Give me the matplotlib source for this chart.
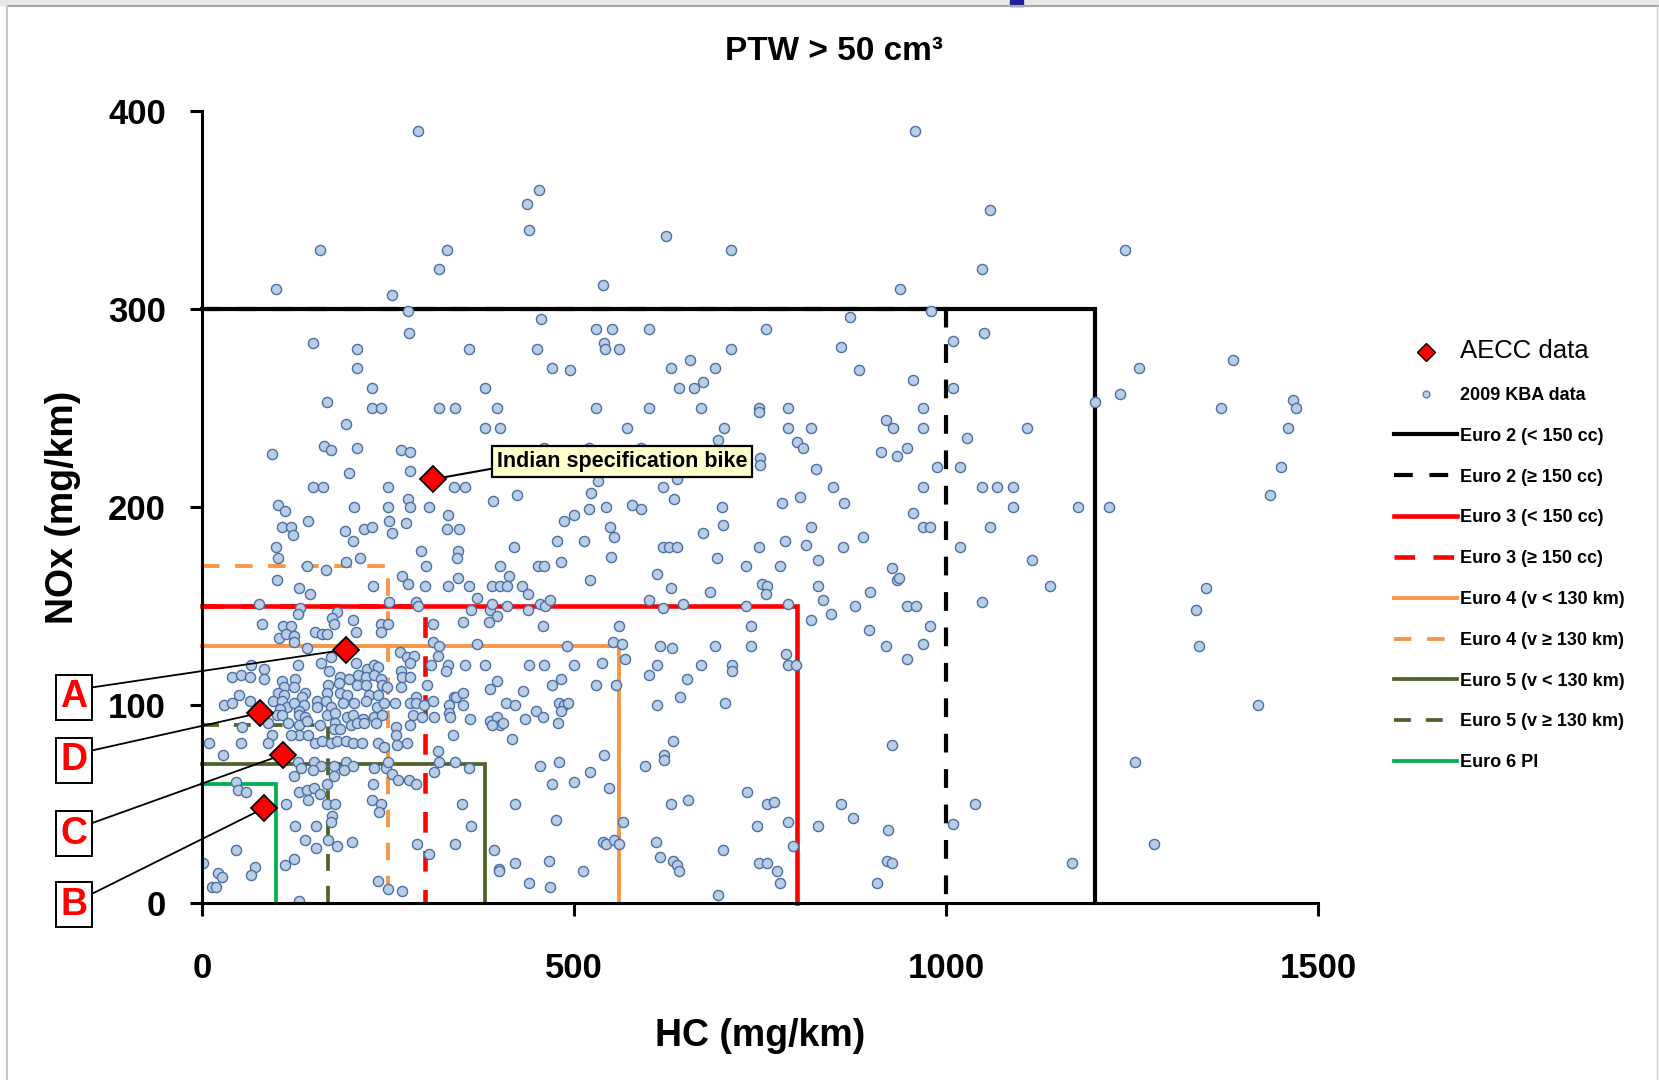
import matplotlib
matplotlib.use("Agg")
import matplotlib.pyplot as plt
import numpy as np
from matplotlib.lines import Line2D
from matplotlib.patches import Rectangle

plt.rcParams['font.family'] = ['Liberation Sans', 'DejaVu Sans']

# 2009 KBA data: (HC mg/km, NOx mg/km)
kba_upper = [
    (290, 390), (453, 360), (437, 353), (440, 340), (624, 337), (711, 330), (159, 330), (329, 330),
    (319, 320), (99, 310), (256, 307), (539, 312), (277, 299), (455, 295), (278, 288), (530, 290),
    (551, 290), (601, 290), (149, 283), (209, 280), (359, 280), (450, 280), (540, 283), (541, 280),
    (560, 280), (711, 280), (209, 270), (471, 270), (494, 269), (630, 270), (656, 274), (690, 270),
    (229, 260), (380, 260), (641, 260), (661, 260), (673, 263), (168, 253), (229, 250), (240, 250),
    (319, 250), (340, 250), (396, 250), (530, 250), (601, 250), (671, 250), (193, 242), (380, 240),
    (400, 240), (571, 240), (701, 240), (94, 227), (164, 231), (174, 229), (209, 230), (268, 229),
    (280, 228), (694, 234), (197, 217), (279, 218), (532, 213), (638, 214), (460, 230), (520, 230),
    (590, 230), (484, 218), (586, 219), (660, 219), (715, 219),
    (959, 390), (1059, 350), (1240, 330), (1049, 320), (938, 310), (980, 299), (871, 296), (758, 290),
    (1051, 288), (1009, 284), (859, 281), (1386, 274), (883, 269), (1260, 270), (956, 264), (1009, 260),
    (1234, 257), (1200, 253), (1466, 254), (1470, 250), (1370, 250), (748, 250), (748, 248), (788, 250),
    (969, 250), (919, 244), (929, 240), (788, 240), (818, 240), (969, 240), (1109, 240), (1460, 240),
    (1028, 235), (800, 233), (808, 230), (912, 228), (934, 226), (948, 230), (750, 225), (750, 221),
    (825, 219), (988, 220), (1019, 220), (1450, 220), (848, 210), (969, 210), (1049, 210), (1069, 210),
    (1090, 210), (1435, 206),
]

kba_right = [
    (779, 202), (804, 205), (863, 202), (956, 197), (1090, 200), (1178, 200), (1219, 200), (818, 190),
    (969, 190), (978, 190), (1059, 190), (889, 185), (748, 180), (784, 183), (812, 181), (862, 180),
    (1019, 180), (828, 173), (1115, 173), (777, 170), (928, 169), (934, 163), (937, 164), (753, 161),
    (759, 160), (758, 156), (828, 160), (898, 157), (1140, 160), (1350, 159), (835, 153), (1049, 152),
    (787, 151), (878, 150), (948, 150), (960, 150), (1336, 148), (846, 146), (818, 143), (738, 140),
    (896, 138), (978, 140), (738, 130), (919, 130), (969, 131), (1340, 130), (785, 126), (948, 123),
    (787, 120), (798, 120), (1420, 100), (928, 80), (1254, 71), (733, 56), (759, 50), (769, 51),
    (859, 50), (1039, 50), (875, 43), (746, 39), (788, 41), (828, 39), (922, 37), (1009, 40),
    (794, 29), (1280, 30), (748, 20), (759, 20), (773, 16), (921, 21), (928, 20), (1169, 20),
    (777, 10), (907, 10),
]

kba_middle = [
    (149, 210), (162, 210), (250, 210), (339, 210), (353, 210), (423, 206), (391, 203), (523, 207),
    (620, 210), (634, 204), (102, 201), (112, 198), (204, 200), (250, 200), (277, 204), (279, 200),
    (305, 200), (331, 196), (486, 193), (500, 196), (520, 199), (543, 200), (578, 201), (590, 199),
    (699, 200), (700, 191), (108, 190), (119, 190), (122, 186), (143, 193), (192, 188), (218, 189),
    (229, 190), (252, 193), (256, 187), (274, 192), (329, 189), (346, 189), (477, 183), (513, 183),
    (549, 190), (554, 185), (674, 187), (99, 180), (102, 174), (203, 183), (212, 174), (193, 172),
    (294, 178), (344, 178), (343, 174), (419, 180), (550, 175), (620, 180), (628, 180), (639, 180),
    (692, 174),
]

kba_cluster = [
    (141, 170), (166, 168), (101, 163), (130, 159), (145, 156), (230, 160), (269, 165), (277, 161),
    (301, 170), (300, 160), (330, 160), (344, 164), (77, 151), (132, 149), (129, 146), (252, 152),
    (287, 152), (290, 150), (182, 147), (175, 144), (178, 141), (80, 141), (203, 143), (109, 140),
    (119, 140), (103, 134), (113, 136), (124, 135), (124, 132), (152, 137), (161, 136), (168, 136),
    (207, 137), (240, 141), (250, 141), (240, 137), (310, 141), (141, 129), (173, 124), (207, 121),
    (160, 121), (129, 120), (66, 120), (84, 118), (266, 127), (276, 124), (285, 125), (310, 132),
    (319, 130), (317, 125), (308, 120), (330, 120), (279, 121), (222, 118), (231, 120), (237, 119),
    (171, 117), (40, 114), (52, 115), (64, 114), (84, 113), (107, 112), (125, 113), (185, 114),
    (197, 113), (210, 115), (220, 114), (231, 115), (240, 113), (268, 117), (269, 114), (280, 114),
    (328, 117), (169, 110), (184, 111), (209, 110), (220, 110), (242, 110), (110, 109), (123, 109),
    (138, 106), (134, 104), (50, 105), (102, 106), (110, 105), (168, 106), (185, 106), (195, 105),
    (224, 105), (237, 105), (248, 109), (268, 109), (303, 110), (288, 104), (339, 104), (29, 100),
    (40, 101), (65, 102), (96, 102), (107, 102), (114, 99), (105, 98), (124, 101), (137, 100),
    (130, 97), (155, 102), (167, 102), (155, 99), (173, 99), (190, 101), (204, 101), (220, 102),
    (235, 99), (245, 101), (259, 101), (280, 101), (288, 101), (299, 100), (310, 102), (332, 100),
    (341, 104), (101, 95), (107, 95), (131, 95), (138, 94), (168, 95), (179, 96), (195, 94),
    (203, 95), (217, 93), (231, 94), (242, 95), (284, 95), (296, 94), (312, 94), (332, 96),
    (334, 94), (89, 91), (116, 91), (131, 90), (141, 92), (159, 90), (179, 91), (200, 90),
    (208, 91), (218, 91), (234, 91), (261, 89), (279, 90), (54, 89), (177, 88), (186, 88),
    (94, 85), (131, 85), (143, 85), (261, 85), (337, 85), (9, 81), (28, 75), (52, 81),
    (89, 81), (119, 85), (152, 81), (161, 82), (173, 81), (182, 82), (194, 82), (203, 81),
    (215, 81), (236, 81), (244, 79), (262, 80), (276, 81), (317, 77),
]

kba_low = [
    (129, 71), (133, 68), (150, 71), (160, 69), (177, 69), (193, 71), (203, 69), (149, 67),
    (191, 67), (231, 68), (247, 68), (250, 71), (256, 65), (263, 62), (278, 62), (287, 60),
    (312, 66), (319, 71), (340, 71), (124, 64), (177, 64), (46, 61), (48, 57), (59, 56),
    (131, 56), (141, 57), (151, 58), (159, 55), (143, 52), (168, 60), (230, 60), (229, 52),
    (240, 50), (238, 46), (113, 50), (168, 50), (179, 50), (175, 44), (174, 41), (350, 50),
    (125, 39), (153, 39), (138, 32), (153, 28), (169, 32), (182, 29), (202, 31), (46, 27),
    (2, 20), (112, 19), (123, 22), (71, 18), (66, 14), (22, 15), (27, 13), (13, 8),
    (19, 8), (236, 11), (250, 7), (269, 6), (289, 30), (305, 25), (340, 30), (131, 1),
]

kba_mid_low = [
    (400, 170), (451, 170), (460, 170), (482, 172), (731, 170), (412, 165), (359, 160), (390, 160),
    (401, 160), (410, 160), (430, 160), (438, 156), (369, 154), (522, 163), (611, 166), (630, 159),
    (683, 157), (361, 148), (387, 148), (390, 151), (396, 145), (386, 142), (410, 150), (438, 148),
    (454, 151), (461, 150), (468, 153), (459, 140), (601, 153), (619, 149), (646, 151), (731, 150),
    (560, 140), (351, 142), (369, 131), (490, 130), (552, 132), (564, 131), (616, 130), (632, 129),
    (690, 130), (354, 120), (380, 120), (440, 120), (460, 120), (500, 120), (537, 121), (569, 123),
    (611, 120), (601, 115), (671, 120), (712, 120), (712, 117), (397, 112), (387, 108), (482, 113),
    (470, 110), (530, 110), (557, 110), (652, 113), (431, 107), (351, 106), (351, 100), (408, 101),
    (421, 100), (480, 101), (487, 100), (492, 101), (483, 97), (449, 97), (459, 94), (611, 100),
    (643, 104), (703, 101), (360, 93), (387, 92), (397, 94), (401, 90), (405, 91), (390, 90),
    (434, 93), (478, 91), (416, 83), (633, 82), (540, 75), (621, 75), (621, 72), (596, 69),
    (454, 69), (480, 71), (359, 68), (522, 66), (500, 61), (471, 60), (547, 58), (653, 52),
    (630, 50), (421, 50), (476, 42), (362, 39), (566, 41), (539, 31), (543, 30), (554, 32),
    (560, 30), (610, 31), (392, 27), (616, 23), (633, 21), (638, 19), (641, 16), (700, 27),
    (399, 17), (399, 16), (421, 20), (466, 21), (512, 16), (440, 10), (468, 8), (694, 4),
]

# AECC data points
aecc_labels = ['A', 'B', 'C', 'D']
aecc_hc = [194, 84, 109, 78]
aecc_nox = [128, 48, 75, 96]
indian_hc, indian_nox = 310, 214

# emission limit boxes
limit_names = ['Euro 2 (< 150 cc)', 'Euro 2 (≥ 150 cc)', 'Euro 3 (< 150 cc)', 'Euro 3 (≥ 150 cc)',
               'Euro 4 (v < 130 km)', 'Euro 4 (v ≥ 130 km)', 'Euro 5 (v < 130 km)',
               'Euro 5 (v ≥ 130 km)', 'Euro 6 PI']
limit_hc = [1200, 1000, 800, 300, 560, 250, 380, 170, 100]
limit_nox = [300, 300, 150, 150, 130, 170, 70, 90, 60]
limit_colors = ['black', 'black', '#FF0000', '#FF0000', '#F79646', '#F79646',
                '#4F6228', '#4F6228', '#00B050']
limit_widths = [3.0, 3.0, 3.3, 3.3, 2.8, 2.8, 2.7, 2.7, 2.7]
limit_dashed = [False, True, False, True, False, True, False, True, False]

W, H = 1659, 1080
fig = plt.figure(figsize=(W / 100, H / 100), dpi=100)
ax = fig.add_axes([202 / W, 177 / H, 1116 / W, 792 / H])

# page frame
fig.patches.append(Rectangle((0, 1 - 5 / H), 1, 5 / H, transform=fig.transFigure, color='#E8E8E8', zorder=0))
fig.patches.append(Rectangle((1010 / W, 1 - 6 / H), 13 / W, 6 / H, transform=fig.transFigure, color='#1F1F9A', zorder=1))
fig.lines.append(Line2D([7 / W, 1], [1 - 6 / H, 1 - 6 / H], transform=fig.transFigure, color='#A8A8A8', lw=1.5))
fig.lines.append(Line2D([7 / W, 7 / W], [0, 1 - 6 / H], transform=fig.transFigure, color='#C8C8C8', lw=1.5))
fig.lines.append(Line2D([1657 / W, 1657 / W], [0, 1 - 6 / H], transform=fig.transFigure, color='#D0D0D0', lw=1.0))

handles = []
for name, hc, nox, col, lw, dashed in zip(limit_names, limit_hc, limit_nox, limit_colors,
                                            limit_widths, limit_dashed):
    ls = (0, (4.5, 4)) if dashed else '-'
    ln, = ax.plot([0, hc, hc], [nox, nox, 0], color=col, lw=lw, ls=ls, zorder=2,
                  solid_joinstyle='miter', clip_on=False, label=name)
    handles.append(ln)

kba = np.array(kba_upper + kba_right + kba_middle + kba_cluster + kba_low + kba_mid_low)
ax.plot(kba[:, 0], kba[:, 1], 'o', ms=7.3, mfc='#B9CDE5', mec='#4A70A5', mew=1.0, zorder=3)

ax.plot(aecc_hc + [indian_hc], aecc_nox + [indian_nox], 'D', ms=13.5, mfc='#FF0000',
        mec='black', mew=1.3, zorder=6, clip_on=False)

# callouts
ax.annotate('Indian specification bike', xy=(indian_hc, indian_nox), xytext=(565, 223),
            ha='center', va='center', fontsize=15.5, fontweight='bold', zorder=5,
            bbox=dict(boxstyle='square,pad=0.22', fc='#FFFFCC', ec='black', lw=1.6),
            arrowprops=dict(arrowstyle='-', color='black', lw=1.5, shrinkA=0, shrinkB=0,
                            relpos=(0, 0.2)))

label_y = {'A': 104, 'D': 72, 'C': 35, 'B': -1}
for lab, hc, nox in zip(aecc_labels, aecc_hc, aecc_nox):
    ax.annotate(lab, xy=(hc, nox), xytext=(-172, label_y[lab]), ha='center', va='center',
                fontsize=27, fontweight='bold', color='#FF0000', zorder=5, annotation_clip=False,
                bbox=dict(boxstyle='square,pad=0.12', fc='white', ec='black', lw=1.4),
                arrowprops=dict(arrowstyle='-', color='black', lw=1.3, shrinkA=0, shrinkB=0,
                                relpos=(1, 0.75)))

# axes styling
ax.set_xlim(0, 1500)
ax.set_ylim(0, 400)
ax.set_xticks([0, 500, 1000, 1500])
ax.set_yticks([0, 100, 200, 300, 400])
for s in ['top', 'right']:
    ax.spines[s].set_visible(False)
for s in ['left', 'bottom']:
    ax.spines[s].set_linewidth(2.2)
    ax.spines[s].set_zorder(4)
ax.tick_params(direction='out', length=9, width=2.2, labelsize=25)
ax.tick_params(axis='x', pad=26)
ax.tick_params(axis='y', pad=17)
for t in ax.get_xticklabels() + ax.get_yticklabels():
    t.set_fontweight('bold')

ax.set_xlabel('HC (mg/km)', fontsize=27, fontweight='bold', va='center')
ax.xaxis.set_label_coords(0.5, -0.1675)
ax.set_ylabel('NOx (mg/km)', fontsize=27, fontweight='bold', va='center')
ax.yaxis.set_label_coords(-0.1246, 0.499)

fig.text(834 / W, 1 - 51 / H, 'PTW > 50 cm³', ha='center', va='center', fontsize=24,
         fontweight='bold')

# legend
aecc_h = Line2D([], [], ls='', marker='D', ms=9, mfc='#FF0000', mec='black', mew=1.0)
kba_h = Line2D([], [], ls='', marker='o', ms=5, mfc='#B9CDE5', mec='#4A70A5', mew=0.8)
leg = fig.legend([aecc_h, kba_h] + handles, ['AECC data', '2009 KBA data'] + limit_names,
                 loc='upper left', bbox_to_anchor=(1394 / W, 1 - 339 / H), frameon=False,
                 prop=dict(size=13, weight='bold'), handlelength=3.5, handletextpad=0.15,
                 labelspacing=1.32, borderpad=0, borderaxespad=0)
leg.get_texts()[0].set_fontsize(18.5)
leg.get_texts()[0].set_fontweight('normal')

fig.savefig('out.png', dpi=100, facecolor='white')
